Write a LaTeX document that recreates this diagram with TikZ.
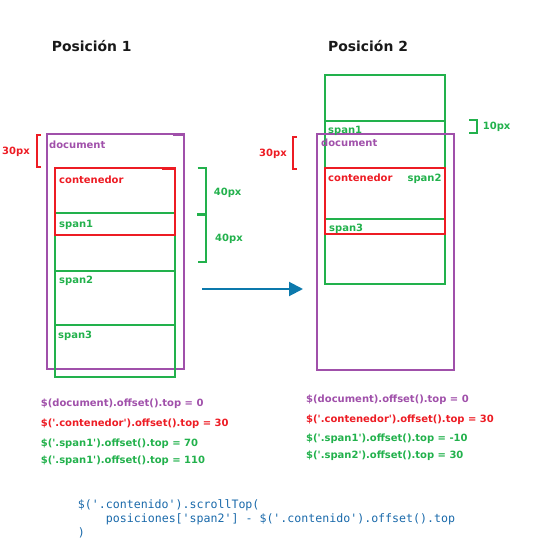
\documentclass[tikz,border=0pt]{standalone}
\usepackage{fontspec}
\setmainfont[Ligatures=TeXOff]{DejaVu Sans}
\setmonofont{DejaVu Sans Mono}
\usetikzlibrary{arrows.meta}
\definecolor{cpurple}{RGB}{160,80,170}
\definecolor{cred}{RGB}{237,28,36}
\definecolor{cgreen}{RGB}{34,177,76}
\definecolor{cblue}{RGB}{12,121,172}
\definecolor{ccode}{RGB}{25,105,170}
\definecolor{ctitle}{RGB}{25,25,25}
\newcommand{\qs}{\char39\relax}
\tikzset{
  box/.style={line width=2pt},
  lbl/.style={anchor=base west,inner sep=0pt,font=\fontsize{10}{12}\selectfont\bfseries},
  title/.style={anchor=base west,inner sep=0pt,text=ctitle,font=\fontsize{13.9}{16}\selectfont\bfseries},
  codeln/.style={anchor=base west,inner sep=0pt,font=\fontsize{10}{12}\selectfont\bfseries},
  mono/.style={anchor=base west,inner sep=0pt,text=ccode,font=\fontsize{11.6}{14}\selectfont\ttfamily},
  brk/.style={line width=2pt},
}
\begin{document}
\begin{tikzpicture}[x=1pt,y=-1pt]
\useasboundingbox (0,0) rectangle (539,546);
% titles
\node[title] (t1) at (51.7,51) {Posición 1};
\node[title] (t2) at (328,51) {Posición 2};

% ---------- left diagram ----------
\draw[box,cpurple] (46.7,134) rectangle (184,369);
\draw[line width=3pt,cpurple] (173,134.5) -- (184,134.5);
\draw[box,cgreen] (55,212.7) rectangle (175,377.3);
\draw[box,cgreen] (55,271) -- (175,271);
\draw[box,cgreen] (55,325) -- (175,325);
\draw[box,cred] (55,167.7) rectangle (175,235);
\draw[line width=3pt,cred] (162,168.3) -- (175,168.3);
\node[lbl,text=cpurple] (doc1) at (49,148) {document};
\node[lbl,text=cred] (cont1) at (59,183) {contenedor};
\node[lbl,text=cgreen] (s11) at (59,227) {span1};
\node[lbl,text=cgreen] (s12) at (59,283) {span2};
\node[lbl,text=cgreen] (s13) at (58,338) {span3};
% brackets left
\draw[brk,cred] (40.7,134.7) -- (36.5,134.7) -- (36.5,167) -- (40.7,167);
\node[lbl,text=cred] (p30a) at (2,154.5) {30px};
\draw[brk,cgreen] (197.7,167.7) -- (206,167.7) -- (206,261.7) -- (197.7,261.7);
\draw[line width=3pt,cgreen] (197.3,214.5) -- (206,214.5);
\node[lbl,text=cgreen] (p40a) at (213.7,195) {40px};
\node[lbl,text=cgreen] (p40b) at (215,241) {40px};

% arrow
\coordinate (a0) at (202,289);
\coordinate (a1) at (303,289);
\draw[cblue,line width=2pt,-{Triangle[length=14pt,width=14pt]}] (a0) -- (a1);

% ---------- right diagram ----------
\draw[box,cgreen] (324.7,75) rectangle (445,283.7);
\draw[box,cgreen] (324.7,121) -- (445,121);
\draw[box,cgreen] (324.7,219) -- (445,219);
\draw[box,cpurple] (316.7,134) rectangle (454,370);
\draw[box,cred] (324.7,168.3) rectangle (445,234.3);
\node[lbl,text=cgreen] (s21) at (328,133) {span1};
\node[lbl,text=cpurple] (doc2) at (321,146.5) {document};
\node[lbl,text=cred] (cont2) at (328,181) {contenedor};
\node[lbl,text=cgreen,anchor=base east] (s22) at (441.7,181) {span2};
\node[lbl,text=cgreen] (s23) at (329,231.5) {span3};
\draw[brk,cred] (297,136.7) -- (292.7,136.7) -- (292.7,168.7) -- (297,168.7);
\node[lbl,text=cred] (p30b) at (259,156) {30px};
\draw[brk,cgreen] (469.3,120) -- (476.7,120) -- (476.7,132.7) -- (469.3,132.7);
\node[lbl,text=cgreen] (p10) at (482.7,129) {10px};

% ---------- code lines ----------
\node[codeln,text=cpurple] (l1) at (40.7,406) {\$(document).offset().top = 0};
\node[codeln,text=cred] (l2) at (40.7,426) {\$(\qs.contenedor\qs).offset().top = 30};
\node[codeln,text=cgreen] (l3) at (40.7,446) {\$(\qs.span1\qs).offset().top = 70};
\node[codeln,text=cgreen] (l4) at (40.7,463.5) {\$(\qs.span1\qs).offset().top = 110};

\node[codeln,text=cpurple] (r1) at (306,402.5) {\$(document).offset().top = 0};
\node[codeln,text=cred] (r2) at (306,422) {\$(\qs.contenedor\qs).offset().top = 30};
\node[codeln,text=cgreen] (r3) at (306,441) {\$(\qs.span1\qs).offset().top = -10};
\node[codeln,text=cgreen] (r4) at (306,458.5) {\$(\qs.span2\qs).offset().top = 30};

\node[mono] (m1) at (77.7,508.5) {\$(\qs.contenido\qs).scrollTop(};
\node[mono] (m2) at (105.7,522) {posiciones[\qs span2\qs] - \$(\qs.contenido\qs).offset().top};
\node[mono] (m3) at (77.7,536) {)};
\end{tikzpicture}
\end{document}
